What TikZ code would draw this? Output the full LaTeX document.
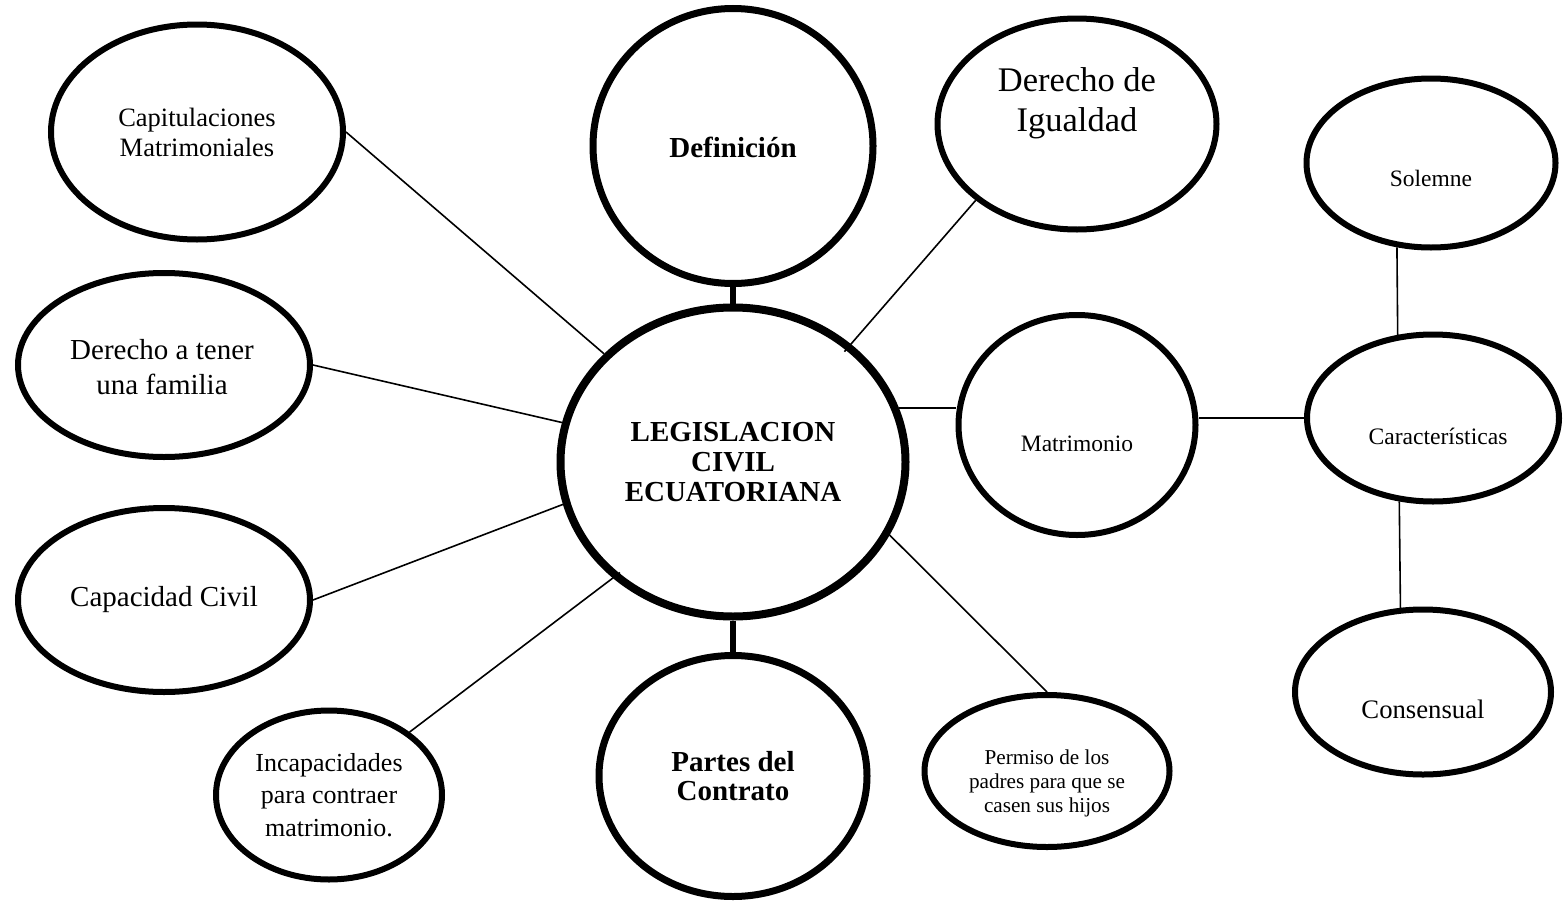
\documentclass[tikz,border=0pt]{standalone}
\usepackage{fontspec}
\setmainfont{Liberation Serif}
\usetikzlibrary{shapes.geometric}
\begin{document}
\begin{tikzpicture}[x=1pt,y=-1pt,
  ell/.style={ellipse, draw=black, line width=6pt, fill=white, inner sep=0pt},
  thickell/.style={ell, line width=7pt},
  txt/.style={align=center, inner sep=0pt, text=black},
  lnk/.style={line width=1.6pt},
  thk/.style={line width=5.5pt}]
\fill[white] (0,0) rectangle (1564,902);
\useasboundingbox (0,0) rectangle (1564,902);

% ellipses
\node[ell, minimum width=292pt, minimum height=215pt] (cap) at (197,132) {};
\node[ell, minimum width=292pt, minimum height=184pt] (der) at (164,365) {};
\node[ell, minimum width=292pt, minimum height=184pt] (capc) at (164,600) {};
\node[ell, minimum width=226pt, minimum height=169pt] (inc) at (329,795) {};
\node[thickell, minimum width=280pt, minimum height=275pt] (def) at (733,146) {};
\node[thickell, line width=8pt, minimum width=345pt, minimum height=309pt] (C) at (733,462) {};
\node[thickell, minimum width=268pt, minimum height=241pt] (par) at (733,776) {};
\node[ell, minimum width=279pt, minimum height=211pt] (ig) at (1077,124) {};
\node[ell, minimum width=237pt, minimum height=220pt] (mat) at (1077,425) {};
\node[ell, minimum width=249pt, minimum height=169pt] (sol) at (1431,163) {};
\node[ell, minimum width=252pt, minimum height=167pt] (car) at (1433,418) {};
\node[ell, minimum width=256pt, minimum height=165pt] (cons) at (1423,692) {};
\node[ell, minimum width=245pt, minimum height=152pt] (per) at (1047,771) {};

% connectors
\draw[lnk] (cap.east) -- (C.140);
\draw[lnk] (der.east) -- (C.167);
\draw[lnk] (capc.east) -- (C.194);
\draw[lnk, shorten >=-9pt] (inc.38) -- (C.224);
\draw[thk] (def.south) -- (C.north);
\draw[thk] (C.south) -- (par.north);
\draw[lnk, shorten >=-10pt] (ig.217) -- (C.45);
\draw[lnk] (C.18) -- (C.18 -| mat.west);
\draw[lnk] (mat.east |- car.west) -- (car.west);
\draw[lnk] (sol.248) -- (car.113);
\draw[lnk] (car.248) -- (cons.105);
\draw[lnk] (C.335) -- (per.north);

% texts
\node[txt, font=\fontsize{26.5}{30}\selectfont] (tcap) at (cap.center) {Capitulaciones\\Matrimoniales};
\node[txt, font=\fontsize{29}{35}\selectfont] (tder) at ([xshift=-2pt,yshift=-2pt]der.center) {Derecho a tener\\una familia};
\node[txt, font=\fontsize{29}{35}\selectfont] (tcapc) at (capc.center) {Capacidad Civil};
\node[txt, font=\fontsize{26}{32.5}\selectfont] (tinc) at (inc.center) {Incapacidades\\para contraer\\matrimonio.};
\node[txt, font=\fontsize{29}{30}\bfseries\selectfont] (tdef) at ([yshift=-1pt]def.center) {Definición};
\node[txt, font=\fontsize{29}{30}\bfseries\selectfont] (tC) at (C.center) {LEGISLACION\\CIVIL\\ECUATORIANA};
\node[txt, font=\fontsize{29}{29}\bfseries\selectfont] (tpar) at (par.center) {Partes del\\Contrato};
\node[txt, font=\fontsize{34.5}{40}\selectfont] (tig) at ([yshift=21pt]ig.center) {Derecho de\\Igualdad};
\node[txt, font=\fontsize{23.5}{28}\selectfont] (tmat) at ([yshift=-19pt]mat.center) {Matrimonio};
\node[txt, font=\fontsize{23.5}{28}\selectfont] (tsol) at ([yshift=-15pt]sol.center) {Solemne};
\node[txt, font=\fontsize{23.6}{28}\selectfont] (tcar) at ([xshift=5pt,yshift=-18pt]car.center) {Características};
\node[txt, font=\fontsize{26.7}{30}\selectfont] (tcons) at ([yshift=-17pt]cons.center) {Consensual};
\node[txt, font=\fontsize{21.2}{24}\selectfont] (tper) at ([yshift=-12pt]per.center) {Permiso de los\\padres para que se\\casen sus hijos};
\end{tikzpicture}
\end{document}
